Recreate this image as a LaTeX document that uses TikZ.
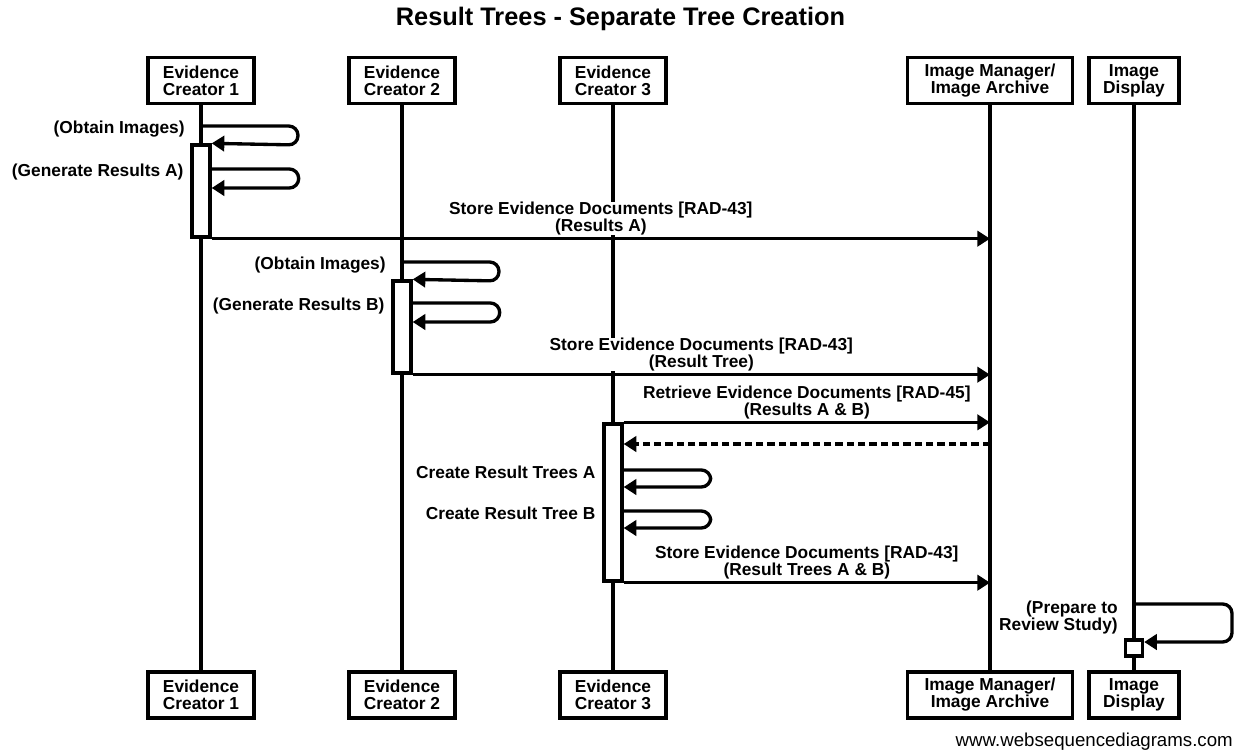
\documentclass[tikz,border=0pt]{standalone}
\usepackage{fontspec}
\setmainfont{Liberation Sans}
\usetikzlibrary{arrows.meta}
\newcommand{\msgfont}{\fontsize{13}{12.75}\selectfont\bfseries}

\begin{document}
\begin{tikzpicture}[x=0.75pt,y=-0.75pt,
	actor/.style={draw,line width=2.5pt,fill=white,align=center,font=\msgfont,minimum height=34.5pt,inner sep=0pt},
	act/.style={draw,line width=2.5pt,fill=white,minimum width=13.5pt,inner sep=0pt},
	life/.style={line width=2.5pt},
	msg/.style={line width=2.5pt,-{Triangle[length=9.5pt,width=11.5pt]}},
	back/.style={msg,dash pattern=on 5.5pt off 3pt},
	self/.style={msg,rounded corners=7pt},
	txt/.style={font=\msgfont,align=center,inner sep=0pt,fill=white},
	note/.style={font=\msgfont,align=right,anchor=east,inner sep=0pt}]
	\path[fill=white,use as bounding box] (0,0) rectangle (1241,753);
	\node[font=\fontsize{19}{21}\selectfont\bfseries] (title) at (620.5,19) {Result Trees - Separate Tree Creation};
	% participants
	\node[actor,minimum width=79.5pt] (ec1t) at (201,80.5) {Evidence\\Creator 1};
	\node[actor,minimum width=79.5pt] (ec2t) at (402,80.5) {Evidence\\Creator 2};
	\node[actor,minimum width=79.5pt] (ec3t) at (613,80.5) {Evidence\\Creator 3};
	\node[actor,minimum width=123.75pt] (imt) at (990,80.5) {Image Manager/\\Image Archive};
	\node[actor,minimum width=67.5pt] (idt) at (1134,80.5) {Image\\Display};
	\node[actor,minimum width=79.5pt] (ec1b) at (201,695) {Evidence\\Creator 1};
	\node[actor,minimum width=79.5pt] (ec2b) at (402,695) {Evidence\\Creator 2};
	\node[actor,minimum width=79.5pt] (ec3b) at (613,695) {Evidence\\Creator 3};
	\node[actor,minimum width=123.75pt] (imb) at (990,695) {Image Manager/\\Image Archive};
	\node[actor,minimum width=67.5pt] (idb) at (1134,695) {Image\\Display};
	\draw[life] (ec1t.south) -- (ec1b.north);
	\draw[life] (ec2t.south) -- (ec2b.north);
	\draw[life] (ec3t.south) -- (ec3b.north);
	\draw[life] (imt.south) -- (imb.north);
	\draw[life] (idt.south) -- (idb.north);
	% activations
	\node[act,minimum height=69pt] (act1) at (ec1t |- 0,191) {};
	\node[act,minimum height=69pt] (act2) at (ec2t |- 0,327) {};
	\node[act,minimum height=117.75pt] (act3) at (ec3t |- 0,502.5) {};
	\node[act,minimum width=12.75pt,minimum height=12pt] (act4) at (idt |- 0,648) {};
	% creator 1
	\draw[self] (ec1t |- 0,126) node[note,xshift=-11pt,yshift=-2.5pt] {(Obtain Images)}
		-- ++(97,0) -- ++(0,19) -- (act1.north east);
	\draw[self] (act1.east |- 0,169) node[note,xshift=-20pt,yshift=-2pt] {(Generate Results A)}
		-- ++(87,0) -- ++(0,19) -- (act1.east |- 0,188);
	\draw[msg] (act1.south east) -- (act1.south east -| imt)
		node[midway,above=1.3pt,txt] {Store Evidence Documents [RAD-43]\\(Results A)};
	% creator 2
	\draw[self] (ec2t |- 0,262) node[note,xshift=-11pt,yshift=-2.5pt] {(Obtain Images)}
		-- ++(97,0) -- ++(0,19) -- (act2.north east);
	\draw[self] (act2.east |- 0,303) node[note,xshift=-20pt,yshift=-2pt] {(Generate Results B)}
		-- ++(87,0) -- ++(0,19) -- (act2.east |- 0,322);
	\draw[msg] (act2.south east) -- (act2.south east -| imt)
		node[midway,above=1.3pt,txt] {Store Evidence Documents [RAD-43]\\(Result Tree)};
	% creator 3
	\draw[msg] (act3.north east) -- (act3.north east -| imt)
		node[midway,above=1.3pt,txt] {Retrieve Evidence Documents [RAD-45]\\(Results A \& B)};
	\draw[back] (imt |- 0,444) -- (act3.east |- 0,444);
	\draw[self] (act3.east |- 0,470) node[note,xshift=-20pt,yshift=-1.5pt] {Create Result Trees A}
		-- ++(87,0) -- ++(0,17) -- (act3.east |- 0,487);
	\draw[self] (act3.east |- 0,511) node[note,xshift=-20pt,yshift=-1.5pt] {Create Result Tree B}
		-- ++(87,0) -- ++(0,17) -- (act3.east |- 0,528);
	\draw[msg] (act3.south east) -- (act3.south east -| imt)
		node[midway,above=1.3pt,txt] {Store Evidence Documents [RAD-43]\\(Result Trees A \& B)};
	% display
	\draw[self] (idt |- 0,604) node[note,xshift=-11pt,yshift=-10pt] {(Prepare to\\Review Study)}
		-- ++(98,0) -- ++(0,38) -- (act4.east |- 0,642);
	\node[anchor=east,font=\fontsize{14}{16}\selectfont,inner sep=0pt] (wsd) at (1233,742) {www.websequencediagrams.com};
\end{tikzpicture}
\end{document}
